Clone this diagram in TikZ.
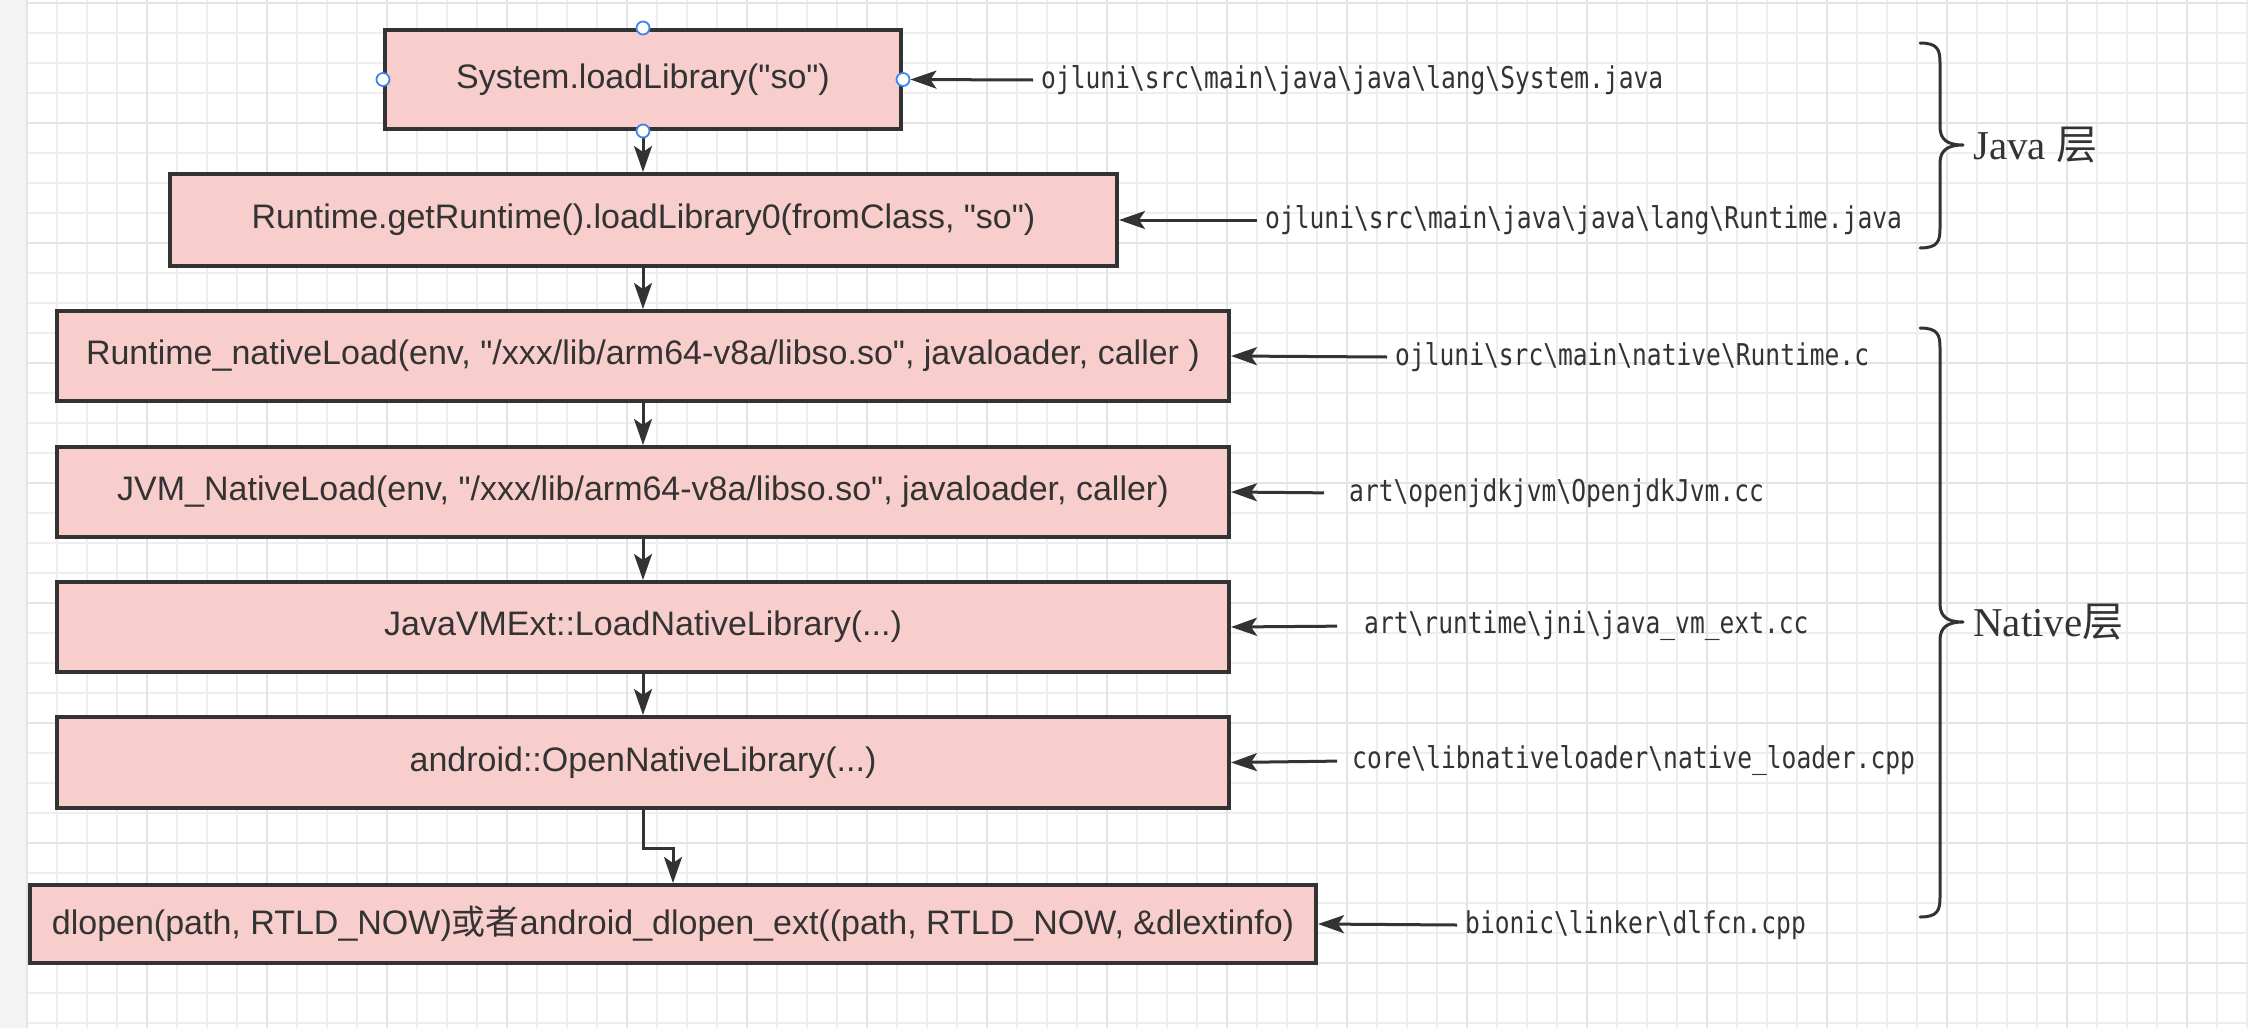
\documentclass[tikz,border=0pt]{standalone}
\usepackage{fontspec}
\setmainfont{Liberation Sans}[Ligatures=TeXOff]
\newfontfamily\cjk{Noto Sans CJK SC}
\newfontfamily\pathfont{DejaVu Sans Mono}[FakeStretch=0.82]
\newfontfamily\layerfont{Liberation Serif}
\usetikzlibrary{arrows.meta}
\definecolor{ink}{HTML}{333333}
\definecolor{boxfill}{HTML}{F8CECC}
\definecolor{gridminor}{HTML}{EEEEEE}
\definecolor{gridmajor}{HTML}{E4E4E4}
\definecolor{handleblue}{HTML}{3D85F0}
\definecolor{stripgray}{HTML}{F3F3F3}
\tikzset{
  fbox/.style={draw=ink, fill=boxfill, line width=4pt, text=ink,
    font=\fontsize{34}{40}\selectfont, inner sep=0pt},
  lbl/.style={text=ink, font=\pathfont\fontsize{30}{34}\selectfont,
    inner xsep=8pt, inner ysep=0pt, anchor=west},
  layer/.style={text=ink, font=\layerfont\fontsize{41}{48}\selectfont,
    inner sep=0pt, anchor=west},
  arr/.style={draw=ink, line width=3pt,
    -{Stealth[length=26pt, width=18pt, inset=6pt]}},
  handle/.style={circle, draw=handleblue, fill=white, line width=1.8pt,
    minimum size=13pt, inner sep=0pt},
  bracepath/.style={draw=ink, line width=3pt, line cap=round, line join=round},
  gmin/.style={draw=gridminor, line width=1.2pt},
  gmaj/.style={draw=gridmajor, line width=2.5pt}
}
\begin{document}
\begin{tikzpicture}[x=1pt, y=-1pt]
\useasboundingbox (0,0) rectangle (2248,1028);
% background grid
\fill[white] (0,0) rectangle (2248,1028);
\foreach \gx in {27,57,...,2247} \draw[gmin] (\gx,0) -- (\gx,1028);
\foreach \gy in {3,33,...,1027} \draw[gmin] (27,\gy) -- (2248,\gy);
\foreach \gx in {27,147,...,2247} \draw[gmaj] (\gx,0) -- (\gx,1028);
\foreach \gy in {3,123,...,1027} \draw[gmaj] (27,\gy) -- (2248,\gy);
\fill[stripgray] (0,0) rectangle (26,1028);

% boxes
\node[fbox, minimum width=516pt, minimum height=99pt] (b1) at (643,79.5) {System.loadLibrary("so")};
\node[fbox, minimum width=947pt, minimum height=92pt] (b2) at (643.5,220) {Runtime.getRuntime().loadLibrary0(fromClass, "so")};
\node[fbox, minimum width=1172pt, minimum height=90pt] (b3) at (643,356) {Runtime\_nativeLoad(env, "/xxx/lib/arm64-v8a/libso.so", javaloader, caller )};
\node[fbox, minimum width=1172pt, minimum height=90pt] (b4) at (643,492) {JVM\_NativeLoad(env, "/xxx/lib/arm64-v8a/libso.so", javaloader, caller)};
\node[fbox, minimum width=1172pt, minimum height=90pt] (b5) at (643,627) {JavaVMExt::LoadNativeLibrary(...)};
\node[fbox, minimum width=1172pt, minimum height=91pt] (b6) at (643,762.5) {android::OpenNativeLibrary(...)};
\node[fbox, minimum width=1286pt, minimum height=78pt] (b7) at (673,924) {dlopen(path, RTLD\_NOW){\cjk 或者}android\_dlopen\_ext((path, RTLD\_NOW, \&dlextinfo)};

% vertical arrows
\draw[arr] (b1.south) -- (b2.north -| b1.south);
\draw[arr] (b2.south -| b1.south) -- (b3.north);
\draw[arr] (b3.south) -- (b4.north);
\draw[arr] (b4.south) -- (b5.north);
\draw[arr] (b5.south) -- (b6.north);
\coordinate (jog) at (0,848);
\draw[arr] (b6.south) -- (b6.south |- jog) -| (b7.north);

% selection handles on first box
\node[handle] (h1t) at (b1.north) {};
\node[handle] (h1b) at (b1.south) {};
\node[handle] (h1l) at (b1.west) {};
\node[handle] (h1r) at (b1.east) {};

% source labels
\node[lbl] (l1) at (1033,80) {ojluni\textbackslash src\textbackslash main\textbackslash java\textbackslash java\textbackslash lang\textbackslash System.java};
\node[lbl] (l2) at (1257,220) {ojluni\textbackslash src\textbackslash main\textbackslash java\textbackslash java\textbackslash lang\textbackslash Runtime.java};
\node[lbl] (l3) at (1387,357) {ojluni\textbackslash src\textbackslash main\textbackslash native\textbackslash Runtime.c};
\node[lbl] (l4) at (1341,493) {art\textbackslash openjdkjvm\textbackslash OpenjdkJvm.cc};
\node[lbl] (l5) at (1356,626) {art\textbackslash runtime\textbackslash jni\textbackslash java\_vm\_ext.cc};
\node[lbl] (l6) at (1344,761) {core\textbackslash libnativeloader\textbackslash native\_loader.cpp};
\node[lbl] (l7) at (1457,925) {bionic\textbackslash linker\textbackslash dlfcn.cpp};

\draw[arr] (l1.west) -- (h1r.east);
\draw[arr] (l2.west) -- (b2.east);
\draw[arr] (l3.west) -- (b3.east);
\draw[arr, shorten <=17pt] (l4.west) -- (b4.east);
\draw[arr, shorten <=19pt] (l5.west) -- (b5.east);
\draw[arr, shorten <=7pt] (l6.west) -- (b6.east);
\draw[arr] (l7.west) -- (b7.east);

% braces
\draw[bracepath] (1920,43) .. controls (1938,43) and (1940,50) .. (1940,63)
  -- (1940,127) .. controls (1940,140) and (1948,145) .. (1963,145)
  .. controls (1948,145) and (1940,150) .. (1940,163)
  -- (1940,228) .. controls (1940,241) and (1938,248) .. (1920,248);
\draw[bracepath] (1920,328) .. controls (1938,328) and (1940,335) .. (1940,348)
  -- (1940,604) .. controls (1940,617) and (1948,622) .. (1963,622)
  .. controls (1948,622) and (1940,627) .. (1940,640)
  -- (1940,897) .. controls (1940,910) and (1938,917) .. (1920,917);

\node[layer] (jl) at (1973,145) {Java {\cjk 层}};
\node[layer] (nl) at (1973,622) {Native{\cjk 层}};
\end{tikzpicture}
\end{document}
